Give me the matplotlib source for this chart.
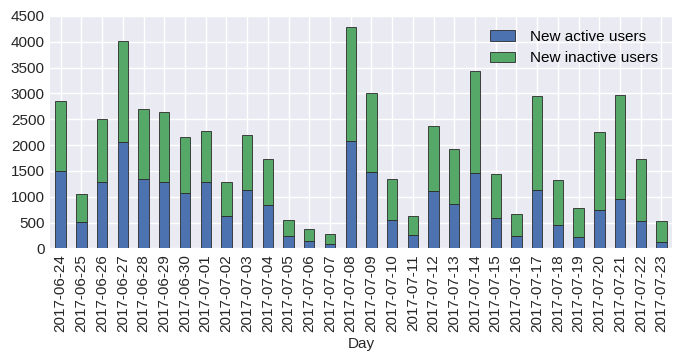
import numpy as np
import matplotlib
matplotlib.use("Agg")
import matplotlib.pyplot as plt

days = [
    "2017-06-24", "2017-06-25", "2017-06-26", "2017-06-27", "2017-06-28",
    "2017-06-29", "2017-06-30", "2017-07-01", "2017-07-02", "2017-07-03",
    "2017-07-04", "2017-07-05", "2017-07-06", "2017-07-07", "2017-07-08",
    "2017-07-09", "2017-07-10", "2017-07-11", "2017-07-12", "2017-07-13",
    "2017-07-14", "2017-07-15", "2017-07-16", "2017-07-17", "2017-07-18",
    "2017-07-19", "2017-07-20", "2017-07-21", "2017-07-22", "2017-07-23",
]
active = [1490, 505, 1290, 2055, 1350, 1275, 1065, 1275, 635, 1135,
          845, 248, 138, 85, 2085, 1485, 550, 260, 1120, 868,
          1465, 590, 242, 1135, 455, 222, 752, 960, 538, 125]
total = [2850, 1055, 2505, 4010, 2695, 2630, 2150, 2280, 1278, 2190,
         1722, 540, 378, 280, 4285, 3000, 1348, 630, 2378, 1930,
         3432, 1432, 673, 2940, 1328, 790, 2248, 2978, 1735, 538]
inactive = [t - a for t, a in zip(total, active)]

plt.rcParams["font.family"] = ["Liberation Sans", "DejaVu Sans"]
plt.rcParams["font.size"] = 11

fig = plt.figure(figsize=(6.8, 3.61), dpi=100)
ax = fig.add_axes([0.074, 0.312, 0.914, 0.644])
ax.set_facecolor("#EAEAF2")
for s in ax.spines.values():
    s.set_visible(False)
ax.grid(True, color="white", linewidth=1)
ax.set_axisbelow(True)

x = np.arange(len(days))
ax.bar(x, active, width=0.5, color="#4C72B0", edgecolor="#2a2a2a",
       linewidth=0.6, label="New active users")
ax.bar(x, inactive, width=0.5, bottom=active, color="#55A868",
       edgecolor="#2a2a2a", linewidth=0.6, label="New inactive users")

ax.set_xlim(-0.5, len(days) - 0.5)
ax.set_ylim(0, 4500)
ax.set_yticks(np.arange(0, 4501, 500))
ax.set_xticks(x)
ax.set_xticklabels(days, rotation=90)
ax.tick_params(length=0, pad=4, colors="#262626", labelsize=11)
ax.set_xlabel("Day", color="#262626", fontsize=11)

ax.legend(loc="upper right", frameon=False, fontsize=11,
          handlelength=1.6, handletextpad=1.0)

fig.savefig("out.png", dpi=100)
